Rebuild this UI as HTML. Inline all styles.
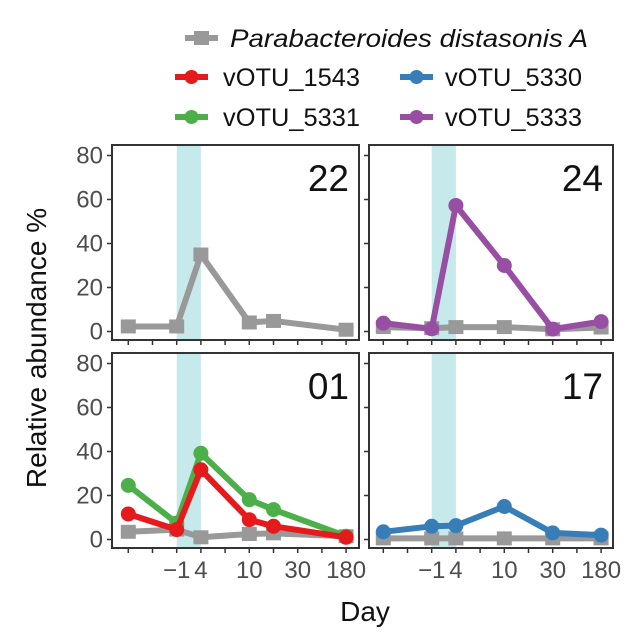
<!DOCTYPE html>
<html><head><meta charset="utf-8"><style>
html,body{margin:0;padding:0;background:#fff;}
svg{display:block;font-family:"Liberation Sans",Arial,sans-serif;}
</style></head><body>
<svg id="chart" width="627" height="634" viewBox="0 0 627 634">
<g>
 <g>
  <line x1="185" y1="38" x2="218" y2="38" stroke="#999" stroke-width="6"/>
  <rect x="194" y="31" width="15" height="14" fill="#999"/>
  <text x="230" y="47" font-size="25" font-style="italic" textLength="358" lengthAdjust="spacingAndGlyphs" fill="#111">Parabacteroides distasonis A</text>
 </g>
 <g>
  <line x1="175" y1="77" x2="208" y2="77" stroke="#e41a1c" stroke-width="6"/>
  <circle cx="191.5" cy="77" r="7" fill="#e41a1c"/>
  <text x="223" y="86" font-size="25" textLength="137" lengthAdjust="spacingAndGlyphs" fill="#111">vOTU_1543</text>
 </g>
 <g>
  <line x1="400" y1="77" x2="433" y2="77" stroke="#377eb8" stroke-width="6"/>
  <circle cx="416.5" cy="77" r="7" fill="#377eb8"/>
  <text x="445" y="86" font-size="25" textLength="137" lengthAdjust="spacingAndGlyphs" fill="#111">vOTU_5330</text>
 </g>
 <g>
  <line x1="175" y1="117" x2="208" y2="117" stroke="#4daf4a" stroke-width="6"/>
  <circle cx="191.5" cy="117" r="7" fill="#4daf4a"/>
  <text x="223" y="126" font-size="25" textLength="137" lengthAdjust="spacingAndGlyphs" fill="#111">vOTU_5331</text>
 </g>
 <g>
  <line x1="400" y1="117" x2="433" y2="117" stroke="#984ea3" stroke-width="6"/>
  <circle cx="416.5" cy="117" r="7" fill="#984ea3"/>
  <text x="445" y="126" font-size="25" textLength="137" lengthAdjust="spacingAndGlyphs" fill="#111">vOTU_5333</text>
 </g>
</g>
<text transform="translate(46,348) rotate(-90)" text-anchor="middle" font-size="28" fill="#111">Relative abundance %</text>
<text x="365" y="621" text-anchor="middle" font-size="28" fill="#111">Day</text>
<g id="panels"></g>
</svg>
<script>
const xTickLabels = ["", "", "\u22121", "4", "", "10", "", "30", "", "180"];
const yTickLabels = [0, 20, 40, 60, 80];
const panelNames = ["22", "24", "01", "17"];
const seriesColors = {gray:"#999", red:"#e41a1c", green:"#4daf4a", blue:"#377eb8", purple:"#984ea3"};
const p22_gray_x = [0, 2, 3, 5, 6, 9];
const p22_gray_y = [2.3, 2.3, 35, 4.1, 4.8, 0.8];
const p24_gray_x = [0, 2, 3, 5, 7, 9];
const p24_gray_y = [2, 1.5, 2, 2, 1, 1.8];
const p24_purple_x = [0, 2, 3, 5, 7, 9];
const p24_purple_y = [3.8, 1.2, 57.3, 30, 1.1, 4.5];
const p01_gray_x = [0, 2, 3, 5, 6, 9];
const p01_gray_y = [3.5, 4.5, 1, 2.5, 2.8, 1.5];
const p01_green_x = [0, 2, 3, 5, 6, 9];
const p01_green_y = [24.6, 7.5, 39.2, 18.1, 13.6, 1.5];
const p01_red_x = [0, 2, 3, 5, 6, 9];
const p01_red_y = [11.6, 4.5, 31.7, 9, 6, 1];
const p17_gray_x = [0, 2, 3, 5, 7, 9];
const p17_gray_y = [0.5, 0.5, 0.5, 0.5, 0.5, 0.5];
const p17_blue_x = [0, 2, 3, 5, 7, 9];
const p17_blue_y = [3.5, 6, 6.3, 15, 3, 2];

const NS = "http://www.w3.org/2000/svg";
const root = document.getElementById("panels");
function mk(tag, attrs, parent){const e=document.createElementNS(NS,tag);for(const k in attrs)e.setAttribute(k,attrs[k]);(parent||root).appendChild(e);return e;}

const panels = [
 {name:panelNames[0], x0:112, x1:359, y0:145, y1:340, first:128.3, ylab:true, xlab:false,
  series:[["gray",p22_gray_x,p22_gray_y]]},
 {name:panelNames[1], x0:369, x1:613, y0:145, y1:340, first:383.3, ylab:false, xlab:false,
  series:[["gray",p24_gray_x,p24_gray_y],["purple",p24_purple_x,p24_purple_y]]},
 {name:panelNames[2], x0:112, x1:359, y0:353, y1:548, first:128.3, ylab:true, xlab:true,
  series:[["gray",p01_gray_x,p01_gray_y],["green",p01_green_x,p01_green_y],["red",p01_red_x,p01_red_y]]},
 {name:panelNames[3], x0:369, x1:613, y0:353, y1:548, first:383.3, ylab:false, xlab:true,
  series:[["gray",p17_gray_x,p17_gray_y],["blue",p17_blue_x,p17_blue_y]]}
];
const step = 24.2;
panels.forEach((p,pi)=>{
 const g = mk("g",{});
 
 
 const xs = i => p.first + i*step;
 const yZero = p.y1 - 8.5;
 const ys = v => yZero - v*2.2;
 const band = mk("rect",{x:xs(2), y:p.y0, width:xs(3)-xs(2), height:p.y1-p.y0, fill:"#c6e9eb"}, g);
 
 
 p.series.forEach(s=>{
  const [col, xi, yv] = s;
  const c = seriesColors[col];
  const pts = xi.map((x,i)=>xs(x)+","+ys(yv[i])).join(" ");
  const ln = mk("polyline",{points:pts, fill:"none", stroke:c, "stroke-width":6, "stroke-linejoin":"round"}, g);
  
  
  xi.forEach((x,i)=>{
   let m;
   if(col==="gray") m = mk("rect",{x:xs(x)-7.5, y:ys(yv[i])-7, width:15, height:14, fill:c}, g);
   else m = mk("circle",{cx:xs(x), cy:ys(yv[i]), r:7.5, fill:c}, g);
   
   
  });
 });
 const fr = mk("rect",{x:p.x0, y:p.y0, width:p.x1-p.x0, height:p.y1-p.y0, fill:"none", stroke:"#333", "stroke-width":2}, g);
 
 
 const lab = mk("text",{x:p.x1-10, y:p.y0+46, "text-anchor":"end", "font-size":37, fill:"#111"}, g);
 lab.textContent = p.name;
 
 
 xTickLabels.forEach((t,i)=>{
  const tk = mk("line",{x1:xs(i), x2:xs(i), y1:p.y1, y2:p.y1+5, stroke:"#333", "stroke-width":1.5}, g);
  
  
  if(p.xlab && t!==""){
   const tt = mk("text",{x:xs(i), y:p.y1+30, "text-anchor":"middle", "font-size":24, fill:"#4d4d4d"}, g);
   tt.textContent = t;
   
   
  }
 });
 yTickLabels.forEach(v=>{
  const tk = mk("line",{x1:p.x0-5, x2:p.x0, y1:ys(v), y2:ys(v), stroke:"#333", "stroke-width":1.5}, g);
  
  
  if(p.ylab){
   const tt = mk("text",{x:p.x0-9, y:ys(v)+8, "text-anchor":"end", "font-size":24, fill:"#4d4d4d"}, g);
   tt.textContent = v;
   
   
  }
 });
});
</script>
</body></html>
